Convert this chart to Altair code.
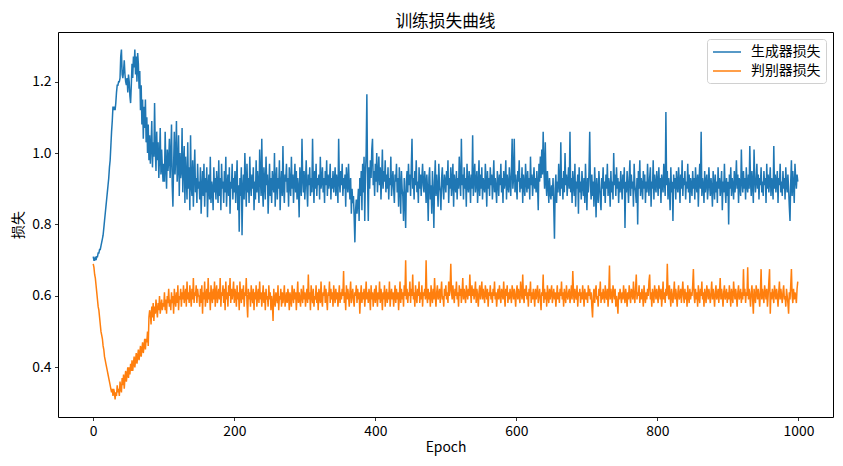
import altair as alt
import pandas as pd

title_text = "训练损失曲线"
x_title = "Epoch"
y_title = "损失"
gen_name = "生成器损失"
disc_name = "判别器损失"
x_ticks = [0, 200, 400, 600, 800, 1000]
y_ticks = [0.4, 0.6, 0.8, 1.0, 1.2]

gen_loss = [
    0.71,0.70,0.70,0.71,0.70,0.71,0.71,0.72,0.72,0.73,0.73,0.74,0.75,0.76,0.77,0.79,0.81,0.83,0.85,0.87,0.89,0.91,0.93,0.96,0.98,
    1.02,1.06,1.09,1.13,1.12,1.13,1.12,1.14,1.17,1.19,1.19,1.20,1.20,1.21,1.27,1.29,1.22,1.21,1.23,1.26,1.22,1.20,1.19,1.21,1.17,
    1.22,1.20,1.16,1.14,1.19,1.25,1.21,1.27,1.24,1.29,1.22,1.27,1.20,1.28,1.25,1.18,1.23,1.12,1.19,1.08,1.15,1.04,1.13,1.07,1.15,
    1.03,1.10,1.00,1.08,0.98,1.05,0.97,1.02,1.09,0.96,1.03,0.99,1.14,1.01,0.95,1.06,0.98,1.03,0.93,0.99,1.07,0.94,1.01,0.96,0.92,
    0.97,0.92,1.06,0.96,0.90,1.01,0.95,0.98,1.04,0.93,0.99,1.08,0.91,0.85,0.97,1.06,0.94,0.99,1.09,0.92,0.96,1.05,0.88,1.00,0.93,
    0.95,1.07,0.89,0.97,1.02,0.86,0.99,0.93,0.87,1.03,0.90,0.96,0.84,1.05,0.91,0.88,0.98,0.85,0.94,1.01,0.89,0.93,0.86,0.97,0.90,
    0.92,0.87,0.96,0.83,0.90,0.95,0.88,0.97,0.85,0.93,0.89,0.96,0.82,0.91,0.94,0.87,0.99,0.86,0.92,0.90,0.84,0.96,0.89,0.93,0.87,
    0.95,0.91,0.86,0.98,0.88,0.93,0.84,0.97,0.90,0.92,0.86,0.95,0.89,0.99,0.85,0.91,0.94,0.88,0.96,0.83,0.92,0.90,0.97,0.87,0.93,
    0.89,0.95,0.86,0.92,0.98,0.84,0.91,0.78,0.93,0.88,0.96,0.77,0.90,0.94,0.87,1.00,0.92,0.85,0.97,0.89,0.93,0.86,0.99,0.91,0.88,
    0.94,0.90,0.96,0.84,0.92,0.87,0.98,0.89,0.95,0.91,0.86,1.01,0.93,0.88,1.04,0.90,0.85,0.96,0.92,0.87,0.99,0.91,0.94,0.83,0.90,
    0.97,0.88,0.93,0.86,0.95,0.91,0.89,1.00,0.85,0.92,0.96,0.87,0.93,0.90,0.98,0.84,0.91,0.95,0.88,1.02,0.90,0.86,0.94,0.92,0.97,
    0.89,0.93,0.85,0.96,0.91,0.88,0.99,0.90,0.94,0.86,0.92,0.97,0.89,0.95,0.87,0.93,0.90,0.82,0.96,0.91,0.88,1.04,0.93,0.89,0.95,
    0.87,0.92,0.98,0.90,0.85,0.94,0.91,0.96,0.88,0.93,0.89,1.04,0.92,0.86,0.95,0.90,0.97,0.88,0.93,0.91,0.94,0.87,0.99,0.90,0.92,
    0.96,0.89,0.93,0.86,0.95,0.91,0.98,0.88,0.94,0.90,0.92,0.97,0.87,0.93,0.90,0.95,0.89,0.92,0.96,0.88,0.94,0.91,0.86,1.04,0.92,
    0.89,0.95,0.91,0.97,0.88,0.93,0.90,0.94,0.85,0.96,0.92,0.89,0.97,0.91,0.87,0.93,0.83,0.90,0.86,0.88,0.82,0.75,0.84,0.87,0.83,
    0.86,0.90,0.81,0.93,0.88,0.95,0.84,0.97,0.89,0.99,0.81,0.94,1.00,1.165,0.92,0.81,0.96,0.90,0.98,0.93,1.01,1.04,0.91,0.95,0.88,
    0.97,0.92,1.00,0.89,0.94,0.99,0.91,0.96,0.87,0.93,1.01,0.90,0.95,0.92,0.98,0.89,0.94,0.90,0.96,0.87,0.93,0.91,0.99,0.88,0.92,
    0.95,0.90,0.86,0.94,0.92,0.97,0.89,0.93,0.85,0.96,0.91,0.83,0.95,0.90,0.88,0.81,0.93,0.87,0.79,0.92,0.95,0.89,0.97,0.91,0.94,
    0.88,0.96,1.04,0.90,0.93,0.87,0.95,0.91,0.98,0.89,0.92,0.86,0.96,0.90,0.94,0.88,0.93,0.97,0.91,0.89,0.95,0.92,0.86,0.94,0.90,
    0.81,0.93,0.96,0.87,0.91,0.83,0.95,0.89,0.79,0.92,0.98,0.88,0.94,0.90,0.85,0.97,0.91,0.89,0.84,0.93,0.96,0.90,0.87,0.94,0.92,
    0.89,0.95,0.91,0.98,0.86,0.93,0.90,0.96,0.88,0.92,0.97,0.85,0.94,0.91,0.89,0.95,0.87,0.93,0.90,0.99,0.92,0.88,1.04,0.91,0.94,
    0.87,0.96,0.90,0.93,0.85,0.97,0.91,0.89,0.95,0.92,0.86,0.94,0.90,1.05,0.88,0.93,0.97,0.89,0.92,0.95,0.86,0.91,0.98,0.88,0.94,
    0.90,0.96,0.87,0.93,0.91,0.89,0.97,0.92,0.85,0.95,0.90,0.93,0.88,0.96,0.91,0.94,0.87,0.92,0.98,0.89,0.93,0.90,0.86,0.95,0.92,
    0.88,0.94,0.91,0.97,0.89,0.93,0.86,0.95,0.90,0.92,0.98,0.87,0.94,0.91,0.89,0.96,0.92,0.88,0.95,1.04,0.90,0.93,1.04,0.89,0.94,
    0.91,0.87,0.95,0.92,0.98,0.89,0.93,0.90,0.96,0.86,0.94,0.91,0.88,0.97,0.92,0.89,0.95,0.90,0.93,0.87,0.99,0.91,0.94,0.88,0.92,
    0.96,0.90,0.93,0.89,0.95,0.91,0.84,0.97,0.92,0.99,0.93,1.01,0.94,1.06,0.96,0.90,1.03,0.92,0.88,0.95,0.91,0.86,0.93,0.89,0.87,
    0.91,0.88,0.93,0.85,0.76,0.90,0.94,0.86,0.92,0.89,0.97,0.91,0.88,1.03,0.90,0.93,0.87,0.95,0.89,1.00,0.91,0.94,0.88,0.92,0.96,
    0.90,1.06,0.89,0.93,0.86,0.95,0.91,0.88,0.97,0.85,0.92,0.90,0.94,0.83,0.96,0.89,0.92,0.87,0.95,0.91,0.88,0.93,0.86,0.97,0.90,
    0.84,0.93,0.89,0.95,1.06,0.91,0.87,0.94,0.88,0.92,0.85,0.96,0.90,0.82,0.93,0.89,0.86,0.95,0.91,0.87,0.84,0.93,0.90,0.96,0.88,
    0.92,0.86,0.94,0.90,0.97,0.88,0.93,0.91,0.85,0.95,0.89,0.92,0.87,1.00,0.91,0.94,0.88,0.96,0.90,0.93,0.86,0.92,0.89,0.95,0.91,
    0.87,0.94,0.90,0.96,0.79,0.92,0.89,0.95,0.91,0.86,0.93,0.98,0.88,0.94,0.90,0.92,0.85,0.97,0.91,0.89,0.86,0.93,0.80,0.95,0.90,
    0.98,0.88,0.93,0.91,0.87,0.95,0.90,0.94,0.86,0.92,0.89,0.97,0.91,0.88,0.93,0.96,0.85,0.92,0.90,0.98,0.87,0.94,0.91,0.89,0.95,
    0.92,0.88,0.96,0.90,0.93,0.86,0.94,0.91,0.89,0.97,0.92,0.88,1.115,0.91,0.95,0.87,0.93,0.90,0.84,0.96,0.89,0.92,0.81,0.94,0.90,
    0.93,0.87,0.95,0.91,0.89,0.96,0.92,0.86,0.94,0.90,0.98,0.88,0.93,0.91,0.95,0.87,0.92,0.90,0.97,0.89,0.94,0.86,0.93,0.91,0.88,
    0.95,0.90,0.93,0.87,0.96,0.91,0.89,0.94,0.85,0.92,0.97,0.90,1.06,0.88,0.93,0.91,0.86,0.95,0.89,0.92,0.94,0.87,0.90,0.96,0.91,
    0.88,0.93,0.90,0.85,0.95,0.91,0.87,0.94,0.89,0.92,0.86,0.96,0.90,0.93,0.88,0.91,0.95,0.84,0.92,0.89,0.97,0.90,0.86,0.93,0.88,
    0.92,0.80,0.94,0.90,0.96,0.88,0.93,0.91,0.87,0.95,0.89,0.92,0.98,0.90,0.94,0.86,0.93,0.91,0.88,1.01,0.92,0.89,0.95,0.90,0.93,
    0.87,0.96,0.91,0.89,0.94,0.90,1.02,0.92,0.88,0.95,0.91,0.86,1.01,0.93,0.89,0.92,0.97,0.90,0.94,0.87,0.93,0.91,0.96,0.89,0.92,
    0.88,0.95,0.91,0.93,0.86,0.97,0.90,0.94,0.89,0.92,0.96,0.88,0.93,0.91,0.87,1.02,0.90,0.94,0.89,0.92,0.95,0.86,0.93,0.91,0.97,
    0.89,0.92,0.88,0.95,0.90,0.93,0.87,0.96,0.91,0.89,0.94,0.90,0.85,0.81,0.92,0.98,0.88,0.95,0.91,0.86,0.97,0.93,0.90,0.94,0.92,
]

disc_loss = [
    0.69,0.68,0.66,0.65,0.63,0.61,0.59,0.57,0.56,0.54,0.52,0.50,0.49,0.48,0.46,0.45,0.43,0.42,0.41,0.40,0.39,0.38,0.37,0.36,0.35,
    0.34,0.33,0.34,0.32,0.34,0.33,0.31,0.33,0.32,0.35,0.33,0.34,0.32,0.36,0.34,0.33,0.37,0.35,0.38,0.34,0.37,0.39,0.36,0.38,0.40,
    0.37,0.40,0.38,0.41,0.39,0.42,0.39,0.41,0.43,0.40,0.42,0.44,0.41,0.43,0.45,0.42,0.44,0.46,0.43,0.45,0.47,0.44,0.46,0.48,0.45,
    0.48,0.47,0.50,0.46,0.54,0.56,0.55,0.52,0.57,0.54,0.58,0.53,0.57,0.55,0.59,0.56,0.54,0.58,0.56,0.60,0.55,0.57,0.59,0.56,0.58,
    0.57,0.61,0.56,0.59,0.55,0.60,0.58,0.62,0.57,0.59,0.56,0.61,0.58,0.60,0.55,0.62,0.59,0.57,0.61,0.58,0.63,0.56,0.60,0.59,0.62,
    0.57,0.61,0.59,0.63,0.58,0.60,0.62,0.57,0.64,0.59,0.61,0.58,0.63,0.60,0.57,0.62,0.59,0.65,0.58,0.61,0.60,0.63,0.58,0.62,0.60,
    0.60,0.57,0.62,0.58,0.63,0.55,0.61,0.59,0.64,0.57,0.60,0.62,0.58,0.65,0.59,0.61,0.56,0.63,0.60,0.58,0.62,0.59,0.64,0.57,0.61,
    0.63,0.58,0.60,0.62,0.59,0.65,0.57,0.61,0.60,0.63,0.58,0.62,0.56,0.64,0.59,0.61,0.57,0.63,0.60,0.65,0.58,0.62,0.59,0.61,0.64,
    0.58,0.62,0.60,0.57,0.63,0.59,0.61,0.56,0.64,0.60,0.58,0.62,0.59,0.63,0.57,0.61,0.60,0.65,0.58,0.54,0.62,0.59,0.61,0.57,0.63,
    0.60,0.58,0.62,0.56,0.61,0.59,0.63,0.57,0.60,0.62,0.58,0.64,0.59,0.61,0.57,0.60,0.63,0.58,0.61,0.56,0.62,0.59,0.60,0.57,0.63,
    0.59,0.61,0.56,0.60,0.58,0.53,0.62,0.59,0.57,0.61,0.60,0.58,0.63,0.56,0.60,0.59,0.62,0.57,0.61,0.58,0.60,0.63,0.57,0.59,0.61,
    0.58,0.62,0.60,0.56,0.61,0.59,0.57,0.63,0.60,0.58,0.62,0.59,0.61,0.56,0.60,0.64,0.58,0.61,0.59,0.57,0.62,0.60,0.58,0.63,0.59,
    0.61,0.57,0.60,0.62,0.58,0.66,0.59,0.61,0.56,0.63,0.60,0.58,0.62,0.57,0.60,0.59,0.63,0.58,0.61,0.56,0.62,0.60,0.58,0.64,0.59,
    0.57,0.61,0.60,0.63,0.58,0.62,0.59,0.56,0.61,0.60,0.64,0.58,0.62,0.59,0.61,0.57,0.63,0.60,0.58,0.62,0.59,0.61,0.57,0.60,0.63,
    0.58,0.61,0.59,0.62,0.60,0.67,0.58,0.61,0.56,0.63,0.59,0.62,0.60,0.57,0.61,0.64,0.58,0.60,0.62,0.59,0.57,0.61,0.60,0.63,0.58,
    0.62,0.59,0.61,0.55,0.60,0.63,0.58,0.61,0.59,0.62,0.57,0.60,0.64,0.59,0.61,0.58,0.62,0.60,0.56,0.63,0.59,0.61,0.57,0.60,0.62,
    0.58,0.63,0.60,0.57,0.61,0.59,0.64,0.58,0.62,0.60,0.56,0.61,0.59,0.63,0.57,0.60,0.62,0.58,0.61,0.59,0.64,0.57,0.60,0.62,0.59,
    0.61,0.57,0.60,0.63,0.58,0.62,0.59,0.61,0.56,0.60,0.64,0.58,0.62,0.59,0.61,0.57,0.63,0.60,0.70,0.59,0.62,0.58,0.61,0.60,0.64,
    0.58,0.62,0.60,0.66,0.59,0.61,0.57,0.63,0.60,0.58,0.62,0.60,0.64,0.58,0.61,0.59,0.63,0.57,0.61,0.60,0.62,0.59,0.70,0.60,0.58,
    0.62,0.59,0.61,0.57,0.63,0.60,0.58,0.62,0.59,0.65,0.60,0.57,0.61,0.63,0.59,0.60,0.62,0.58,0.61,0.64,0.59,0.60,0.57,0.62,0.60,
    0.63,0.59,0.61,0.58,0.64,0.60,0.62,0.69,0.61,0.59,0.63,0.60,0.58,0.62,0.60,0.64,0.59,0.61,0.57,0.63,0.60,0.62,0.58,0.61,0.65,
    0.59,0.62,0.60,0.58,0.63,0.61,0.59,0.62,0.60,0.66,0.61,0.58,0.63,0.60,0.62,0.59,0.61,0.64,0.58,0.62,0.60,0.57,0.61,0.63,0.59,
    0.61,0.64,0.59,0.62,0.60,0.58,0.63,0.61,0.59,0.62,0.57,0.61,0.60,0.63,0.59,0.61,0.58,0.62,0.60,0.64,0.59,0.61,0.57,0.60,0.62,
    0.59,0.63,0.60,0.58,0.62,0.61,0.59,0.64,0.60,0.57,0.62,0.60,0.63,0.58,0.61,0.59,0.62,0.60,0.58,0.63,0.61,0.59,0.62,0.60,0.57,
    0.61,0.63,0.59,0.62,0.60,0.58,0.64,0.61,0.59,0.66,0.60,0.58,0.62,0.60,0.63,0.59,0.61,0.57,0.62,0.60,0.64,0.58,0.61,0.59,0.62,
    0.60,0.57,0.62,0.59,0.61,0.63,0.58,0.60,0.62,0.59,0.56,0.61,0.60,0.66,0.58,0.62,0.59,0.61,0.57,0.63,0.60,0.58,0.62,0.59,0.61,
    0.63,0.58,0.60,0.62,0.59,0.61,0.57,0.60,0.63,0.59,0.61,0.58,0.62,0.60,0.64,0.59,0.61,0.57,0.62,0.60,0.58,0.63,0.60,0.59,0.61,
    0.62,0.58,0.60,0.63,0.59,0.67,0.61,0.58,0.62,0.60,0.59,0.63,0.57,0.61,0.60,0.62,0.58,0.61,0.59,0.63,0.60,0.57,0.62,0.60,0.59,
    0.61,0.58,0.63,0.60,0.62,0.59,0.61,0.57,0.54,0.60,0.62,0.58,0.61,0.63,0.59,0.60,0.57,0.62,0.60,0.64,0.58,0.61,0.59,0.62,0.60,
    0.58,0.63,0.60,0.59,0.62,0.57,0.61,0.685,0.59,0.62,0.60,0.58,0.63,0.61,0.59,0.62,0.57,0.60,0.58,0.55,0.61,0.59,0.62,0.60,0.58,
    0.61,0.59,0.63,0.60,0.58,0.62,0.60,0.57,0.61,0.59,0.63,0.60,0.58,0.62,0.61,0.59,0.64,0.60,0.58,0.62,0.66,0.59,0.61,0.60,0.63,
    0.58,0.61,0.59,0.62,0.60,0.57,0.63,0.60,0.58,0.61,0.59,0.62,0.60,0.64,0.66,0.59,0.61,0.57,0.62,0.60,0.58,0.63,0.61,0.59,0.62,
    0.60,0.58,0.63,0.61,0.59,0.62,0.57,0.60,0.64,0.59,0.61,0.58,0.62,0.60,0.69,0.61,0.59,0.63,0.60,0.57,0.62,0.60,0.58,0.61,0.64,
    0.59,0.62,0.60,0.57,0.61,0.63,0.59,0.60,0.62,0.58,0.61,0.64,0.60,0.58,0.62,0.59,0.61,0.57,0.63,0.60,0.58,0.62,0.59,0.61,0.60,
    0.63,0.675,0.60,0.58,0.62,0.59,0.61,0.57,0.63,0.60,0.58,0.62,0.60,0.64,0.59,0.61,0.57,0.62,0.60,0.58,0.63,0.61,0.59,0.62,0.60,
    0.58,0.61,0.64,0.59,0.62,0.60,0.57,0.61,0.63,0.59,0.60,0.62,0.58,0.61,0.65,0.59,0.62,0.60,0.57,0.61,0.63,0.59,0.60,0.62,0.58,
    0.61,0.59,0.63,0.60,0.57,0.62,0.60,0.58,0.64,0.61,0.59,0.62,0.60,0.57,0.61,0.63,0.59,0.60,0.62,0.58,0.61,0.59,0.675,0.60,0.62,
    0.58,0.61,0.60,0.68,0.59,0.62,0.60,0.57,0.61,0.63,0.59,0.55,0.62,0.60,0.58,0.63,0.61,0.59,0.62,0.60,0.57,0.61,0.675,0.59,0.62,
    0.60,0.58,0.63,0.61,0.59,0.62,0.57,0.60,0.64,0.675,0.55,0.61,0.59,0.62,0.60,0.58,0.63,0.61,0.59,0.62,0.60,0.57,0.61,0.64,0.59,
    0.62,0.60,0.58,0.61,0.63,0.59,0.60,0.57,0.62,0.60,0.58,0.55,0.61,0.59,0.63,0.675,0.60,0.58,0.62,0.59,0.61,0.60,0.58,0.62,0.64,
]

rows = [{"epoch": i, "loss": v, "series": gen_name} for i, v in enumerate(gen_loss)]
rows += [{"epoch": i, "loss": v, "series": disc_name} for i, v in enumerate(disc_loss)]
df = pd.DataFrame(rows)

font = "Noto Sans CJK SC"

chart = (
    alt.Chart(df)
    .mark_line(strokeWidth=1.5)
    .encode(
        x=alt.X(
            "epoch:Q",
            scale=alt.Scale(domain=[-49.95, 1048.95], nice=False, zero=False),
            axis=alt.Axis(values=x_ticks, title=x_title, format="d", titlePadding=3),
        ),
        y=alt.Y(
            "loss:Q",
            scale=alt.Scale(domain=[0.261, 1.339], nice=False, zero=False),
            axis=alt.Axis(values=y_ticks, title=y_title, format=".1f", titlePadding=6),
        ),
        color=alt.Color(
            "series:N",
            sort=[gen_name, disc_name],
            scale=alt.Scale(domain=[gen_name, disc_name], range=["#1f77b4", "#ff7f0e"]),
            legend=alt.Legend(
                title=None,
                orient="none",
                legendX=649,
                legendY=7,
                symbolType="M-1,0H3",
                symbolSize=196,
                symbolStrokeWidth=1.5,
                symbolFillColor="transparent",
                labelFontSize=13.9,
                labelFont=font,
                labelColor="black",
                labelOffset=23,
                rowPadding=4,
                padding=5,
                strokeColor="#d0d0d0",
                fillColor="white",
                cornerRadius=3,
            ),
        ),
    )
    .properties(
        width=775,
        height=385,
        title=alt.TitleParams(title_text, fontSize=16.7, fontWeight="normal", font=font, color="black", offset=1.5),
        autosize=alt.AutoSizeParams(type="none"),
        padding={"left": 50, "top": 24, "right": 2, "bottom": 40},
    )
    .configure(background="white")
    .configure_view(stroke="black", strokeWidth=1)
    .configure_axis(
        grid=False,
        domain=False,
        tickColor="black",
        tickWidth=0.8,
        tickSize=3.5,
        labelFontSize=13.9,
        labelFont=font,
        labelColor="black",
        labelPadding=3.5,
        titleFontSize=13.9,
        titleFont=font,
        titleFontWeight="normal",
        titleColor="black",
    )
)

chart.save("out.html", embed_options={"renderer": "svg", "actions": False})
